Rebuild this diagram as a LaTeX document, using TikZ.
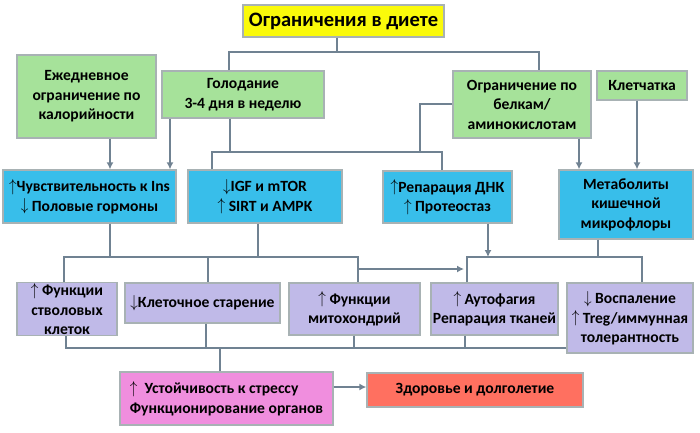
\documentclass[tikz,border=0pt]{standalone}
\usepackage{fontspec}
\setmainfont{Carlito}
\usetikzlibrary{arrows.meta,calc}
\definecolor{cYel}{RGB}{250,250,10}
\definecolor{cGreen}{RGB}{166,226,154}
\definecolor{cBlue}{RGB}{56,190,234}
\definecolor{cPurp}{RGB}{192,186,232}
\definecolor{cPink}{RGB}{240,142,222}
\definecolor{cRed}{RGB}{255,112,96}
\definecolor{cEdge}{RGB}{168,178,180}
\definecolor{cLine}{RGB}{112,130,146}
\newcommand{\UpA}{\raisebox{0.5pt}{\scalebox{1.05}[1.2]{$\uparrow$}}}
\newcommand{\DnA}{\raisebox{0.5pt}{\scalebox{1.05}[1.2]{$\downarrow$}}}
\begin{document}
\begin{tikzpicture}[x=1pt,y=-1pt,
  bx/.style={draw=cEdge, line width=1.3pt, inner sep=1pt, align=center,
    font=\bfseries\fontsize{15.6}{19.5}\selectfont},
  conn/.style={draw=cLine, line width=2.3pt},
  arr/.style={draw=cLine, line width=2pt, -{Latex[length=7pt,width=7pt]}}]
\useasboundingbox (0,0) rectangle (700,432);
% row 0
\node[bx, fill=cYel, minimum width=201pt, minimum height=32pt,
  font=\bfseries\fontsize{20.5}{24}\selectfont] (Y) at (343.5,21) {Ограничения в диете};
% row 1
\node[bx, fill=cGreen, minimum width=139pt, minimum height=83pt] (G1) at (86.5,96.5)
  {Ежедневное\\ограничение по\\калорийности};
\node[bx, fill=cGreen, minimum width=162pt, minimum height=47pt] (G2) at (243,94.5)
  {Голодание\\3-4 дня в неделю};
\node[bx, fill=cGreen, minimum width=138pt, minimum height=67pt] (G3) at (522,104.5)
  {Ограничение по\\белкам/\\аминокислотам};
\node[bx, fill=cGreen, minimum width=90pt, minimum height=29pt] (G4) at (642,85.5)
  {Клетчатка};
% row 2
\node[bx, fill=cBlue, minimum width=173pt, minimum height=53pt] (B1) at (89.5,196.5)
  {\UpA Чувствительность к Ins\\\DnA\ Половые гормоны};
\node[bx, fill=cBlue, minimum width=154pt, minimum height=53pt] (B2) at (265,196.5)
  {\DnA IGF и mTOR\\\UpA\ SIRT и AMPK};
\node[bx, fill=cBlue, minimum width=129pt, minimum height=52pt] (B3) at (447.5,197)
  {\UpA Репарация ДНК\\\UpA\ Протеостаз};
\node[bx, fill=cBlue, minimum width=134pt, minimum height=69pt] (B4) at (626,204.5)
  {Метаболиты\\кишечной\\микрофлоры};
% row 3
\node[bx, fill=cPurp, minimum width=100pt, minimum height=52pt] (P1) at (67,309)
  {\UpA\ Функции\\стволовых\\клеток};
\node[bx, fill=cPurp, minimum width=155pt, minimum height=40pt] (P2) at (202.5,303)
  {\DnA Клеточное старение};
\node[bx, fill=cPurp, minimum width=131pt, minimum height=52pt] (P3) at (354.5,309)
  {\UpA\ Функции\\митохондрий};
\node[bx, fill=cPurp, minimum width=127pt, minimum height=52pt] (P4) at (494.5,309)
  {\UpA\ Аутофагия\\Репарация тканей};
\node[bx, fill=cPurp, minimum width=126pt, minimum height=70pt] (P5) at (630,318)
  {\DnA\ Воспаление\\\UpA\ Treg/иммунная\\толерантность};
% row 4
\node[bx, fill=cPink, minimum width=213pt, minimum height=53pt, align=left] (K) at (226.5,398.5)
  {\UpA\ \ Устойчивость к стрессу\\Функционирование органов};
\node[bx, fill=cRed, minimum width=216pt, minimum height=34pt] (R) at (475,390)
  {Здоровье и долголетие};
% coordinates
\coordinate (j0) at (337,52);
\coordinate (tl) at (229,52);
\coordinate (tr) at (539,52);
\coordinate (a1) at (110,150);
\coordinate (a2) at (170,150);
\coordinate (a3) at (230,152);
\coordinate (m1) at (212,152);
\coordinate (m2) at (442,152);
\coordinate (m3) at (420,152);
\coordinate (m4) at (420,104);
\coordinate (a4) at (579,150);
\coordinate (a5) at (637,150);
\coordinate (bA1) at (64,257);
\coordinate (bA2) at (358,257);
\coordinate (s1) at (110,257);
\coordinate (s2) at (258,257);
\coordinate (d2) at (208,257);
\coordinate (h1) at (358,269);
\coordinate (h2) at (464,269);
\coordinate (bB1) at (467,257);
\coordinate (bB2) at (642,257);
\coordinate (s3) at (488,257);
\coordinate (s4) at (598,257);
\coordinate (c1) at (66,348);
\coordinate (c2) at (206,348);
\coordinate (c3) at (354,348);
\coordinate (c4) at (465,348);
\coordinate (c5) at (220,348);
% row 0 -> 1
\draw[conn] (j0 |- Y.south) -- (j0);
\draw[conn] (tl |- G2.north) -- (tl) -- (tr) -- (tr |- G3.north);
% row 1 -> 2
\draw[arr] (a1 |- G1.south) -- (a1 |- B1.north);
\draw[arr] (a2 |- G2.south) -- (a2 |- B1.north);
\draw[conn] (a3 |- G2.south) -- (a3);
\draw[conn] (m1 |- B2.north) -- (m1) -- (m2) -- (m2 |- B3.north);
\draw[conn] (m4 -| G3.west) -- (m4) -- (m3);
\draw[arr] (a4 |- G3.south) -- (a4 |- B4.north);
\draw[arr] (a5 |- G4.south) -- (a5 |- B4.north);
% row 2 -> 3
\draw[conn] (s1 |- B1.south) -- (s1);
\draw[conn] (s2 |- B2.south) -- (s2);
\draw[conn] (bA1 |- P1.north) -- (bA1) -- (bA2) -- (bA2 |- P3.north);
\draw[conn] (d2) -- (d2 |- P2.north);
\draw[arr] (h1) -- (h2);
\draw[arr] (s3 |- B3.south) -- (s3);
\draw[conn] (s4 |- B4.south) -- (s4);
\draw[conn] (bB1 |- P4.north) -- (bB1) -- (bB2) -- (bB2 |- P5.north);
% row 3 -> 4
\draw[conn] (c1 |- P1.south) -- (c1) -- (c1 -| P5.west);
\draw[conn] (c2 |- P2.south) -- (c2);
\draw[conn] (c3 |- P3.south) -- (c3);
\draw[conn] (c4 |- P4.south) -- (c4);
\draw[conn] (c5) -- (c5 |- K.north);
\draw[arr] (K.east |- R.west) ++(0,-3) coordinate (k1) (k1) -- (k1 -| R.west);
\end{tikzpicture}
\end{document}
